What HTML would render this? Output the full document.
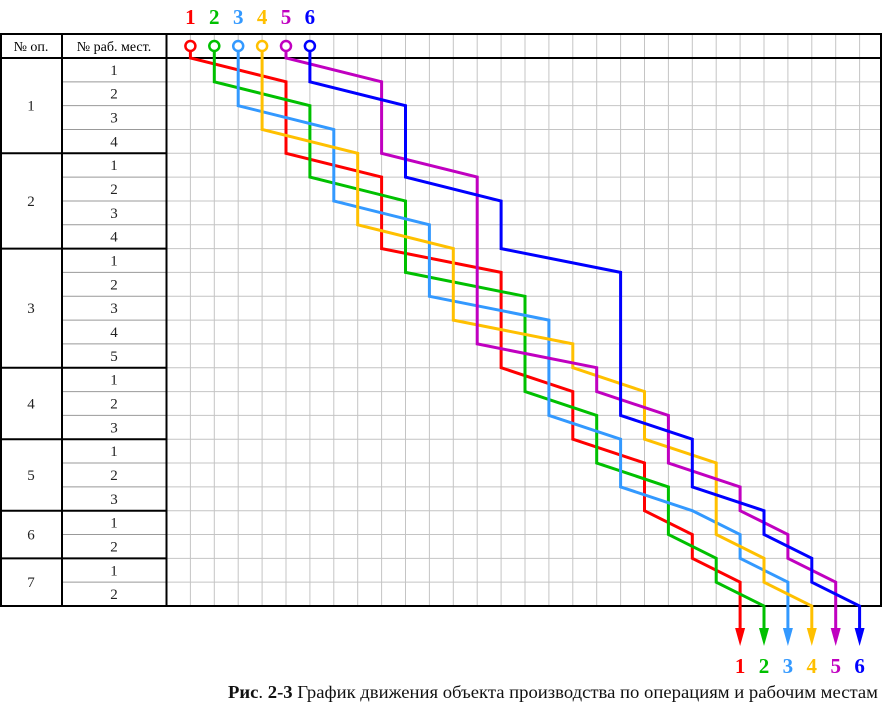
<!DOCTYPE html>
<html><head><meta charset="utf-8">
<style>
body{margin:0;background:#fff;width:883px;height:720px;overflow:hidden}
svg{display:block}
text{font-family:"Liberation Serif",serif}
</style></head><body>
<svg id="chart" width="883" height="720" viewBox="0 0 883 720"></svg>
<script>
const opLabels=["1","2","3","4","5","6","7"];
const opSizes=[4,4,5,3,3,2,2];
const seriesNames=["1","2","3","4","5","6"];
const seriesColors=["#ff0000","#00c000","#3399ff","#ffc000","#c000c0","#0000ff"];
const s1=[[1,0],[5,1],[5,4],[9,5],[9,8],[14,9],[14,13],[17,14],[17,16],[20,17],[20,19],[22,20],[22,21],[24,22],[24,23]];
const s2=[[2,0],[2,1],[6,2],[6,5],[10,6],[10,9],[15,10],[15,14],[18,15],[18,17],[21,18],[21,20],[23,21],[23,22],[25,23]];
const s3=[[3,0],[3,2],[7,3],[7,6],[11,7],[11,10],[16,11],[16,15],[19,16],[19,18],[22,19],[24,20],[24,21],[26,22],[26,23]];
const s4=[[4,0],[4,3],[8,4],[8,7],[12,8],[12,11],[17,12],[17,13],[20,14],[20,16],[23,17],[23,20],[25,21],[25,22],[27,23]];
const s5=[[5,0],[9,1],[9,4],[13,5],[13,12],[18,13],[18,14],[21,15],[21,17],[24,18],[24,19],[26,20],[26,21],[28,22],[28,23]];
const s6=[[6,0],[6,1],[10,2],[10,5],[14,6],[14,8],[19,9],[19,15],[22,16],[22,18],[25,19],[25,20],[27,21],[27,22],[29,23]];
const series=[s1,s2,s3,s4,s5,s6];

const NS="http://www.w3.org/2000/svg";
const svg=document.getElementById("chart");
const X0=166.5,DX=23.9,Y0=58,TOP=34,BOT=606,RIGHT=882;
const totalRows=opSizes.reduce((a,b)=>a+b,0);
const DY=(BOT-Y0)/totalRows;
const xs=c=>X0+DX*c;
const ys=r=>Y0+DY*r;
function mk(tag,attrs,parent){const e=document.createElementNS(NS,tag);for(const k in attrs)e.setAttribute(k,attrs[k]);(parent||svg).appendChild(e);return e;}

const grid=mk("g",{});


for(let c=1;X0+DX*c<RIGHT-2;c++){mk("line",{x1:xs(c),y1:TOP,x2:xs(c),y2:BOT,stroke:"#c4c4c4","stroke-width":1},grid);}
for(let r=1;r<totalRows;r++){mk("line",{x1:X0,y1:ys(r),x2:RIGHT,y2:ys(r),stroke:"#c4c4c4","stroke-width":1},grid);}

const tbl=mk("g",{});


let r=0;
opSizes.forEach((n,i)=>{
  for(let k=0;k<n;k++){
    const t=mk("text",{x:114,y:ys(r+k)+DY/2+5,"text-anchor":"middle","font-size":15,fill:"#222"},tbl);
    t.textContent=String(k+1);
    
    
    if(k>0)mk("line",{x1:62,y1:ys(r+k),x2:166,y2:ys(r+k),stroke:"#999","stroke-width":1},tbl);
  }
  const t=mk("text",{x:31,y:ys(r)+DY*n/2+5,"text-anchor":"middle","font-size":15,fill:"#222"},tbl);
  t.textContent=opLabels[i];
  
  
  r+=n;
  mk("line",{x1:0,y1:ys(r),x2:166,y2:ys(r),stroke:"#000","stroke-width":2},tbl);
});
mk("line",{x1:0,y1:TOP,x2:RIGHT,y2:TOP,stroke:"#000","stroke-width":2},tbl);
mk("line",{x1:0,y1:Y0,x2:RIGHT,y2:Y0,stroke:"#000","stroke-width":2},tbl);
mk("line",{x1:0,y1:BOT,x2:RIGHT,y2:BOT,stroke:"#000","stroke-width":2},tbl);
[1,62,166.5,881].forEach(x=>mk("line",{x1:x,y1:TOP,x2:x,y2:BOT,stroke:"#000","stroke-width":2},tbl));
const h1=mk("text",{x:31,y:51,"text-anchor":"middle","font-size":14},tbl);h1.textContent="№ оп.";


const h2=mk("text",{x:114,y:51,"text-anchor":"middle","font-size":14},tbl);h2.textContent="№ раб. мест.";



series.forEach((pts,i)=>{
  const col=seriesColors[i];
  const g=mk("g",{});
  
  
  const x0=xs(pts[0][0]);
  const top=mk("text",{x:x0,y:24,"text-anchor":"middle","font-size":21,"font-weight":"bold",fill:col},g);
  top.textContent=seriesNames[i];
  
  
  mk("circle",{cx:x0,cy:46,r:5,fill:"#fff",stroke:col,"stroke-width":2.5},g);
  const last=pts[pts.length-1];
  const xl=xs(last[0]);
  let d="M"+x0+" 51 "+pts.map(p=>"L"+xs(p[0]).toFixed(1)+" "+ys(p[1]).toFixed(1)).join(" ")+" L"+xl+" 632";
  const path=mk("path",{d:d,fill:"none",stroke:col,"stroke-width":3,"stroke-linejoin":"miter"},g);
  
  
  mk("polygon",{points:`${xl-5},628 ${xl+5},628 ${xl},646`,fill:col},g);
  const bl=mk("text",{x:xl,y:673,"text-anchor":"middle","font-size":21,"font-weight":"bold",fill:col},g);
  bl.textContent=seriesNames[i];
  
  
});

const cap=mk("text",{x:228,y:698,"font-size":18,fill:"#111",textLength:650,lengthAdjust:"spacingAndGlyphs"});


cap.setAttribute('xml:space','preserve');
cap.innerHTML='<tspan font-weight="bold">Рис</tspan>. <tspan font-weight="bold">2-3</tspan>   График движения объекта производства по операциям и рабочим местам';
</script>
</body></html>
